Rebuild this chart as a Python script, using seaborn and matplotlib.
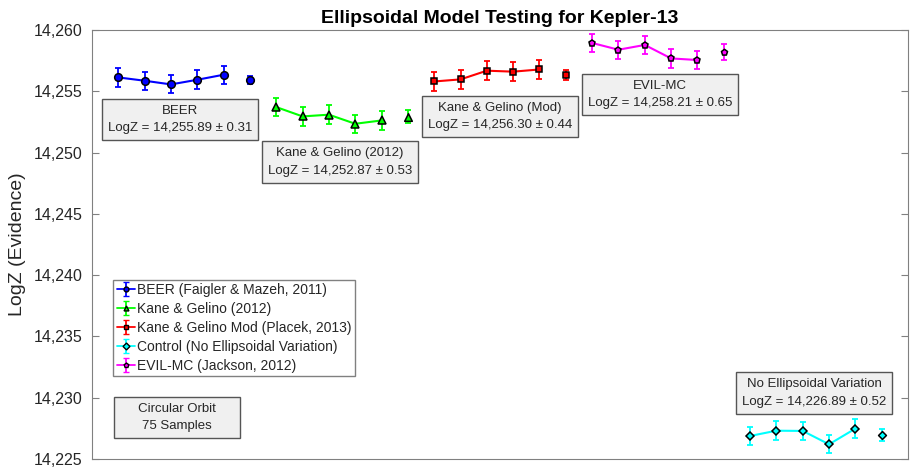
import numpy as np
import seaborn as sns
import matplotlib.pyplot as plt
from matplotlib.ticker import FuncFormatter

# values (LogZ per run, last point of each group = combined)
beer_runs = [14256.13, 14255.86, 14255.56, 14255.94, 14256.35]
kg_runs = [14253.71, 14252.95, 14253.09, 14252.35, 14252.62]
mod_runs = [14255.80, 14255.97, 14256.68, 14256.60, 14256.78]
evil_runs = [14258.94, 14258.39, 14258.78, 14257.68, 14257.55]
ctrl_runs = [14226.88, 14227.31, 14227.29, 14226.20, 14227.48]

beer_err = [0.75, 0.75, 0.73, 0.76, 0.75]
kg_err = [0.73, 0.75, 0.75, 0.75, 0.76]
mod_err = [0.76, 0.75, 0.75, 0.75, 0.75]
evil_err = [0.75, 0.75, 0.75, 0.75, 0.75]
ctrl_err = [0.73, 0.75, 0.75, 0.75, 0.75]

means = [14255.92, 14252.92, 14256.33, 14258.24, 14226.95]
mean_err = [0.31, 0.53, 0.44, 0.65, 0.52]
mean_text = ['14,255.89 ± 0.31', '14,252.87 ± 0.53', '14,256.30 ± 0.44',
             '14,258.21 ± 0.65', '14,226.89 ± 0.52']

box_names = ['BEER', 'Kane & Gelino (2012)', 'Kane & Gelino (Mod)', 'EVIL-MC',
             'No Ellipsoidal Variation']
legend_names = ['BEER (Faigler & Mazeh, 2011)', 'Kane & Gelino (2012)',
                'Kane & Gelino Mod (Placek, 2013)', 'EVIL-MC (Jackson, 2012)',
                'Control (No Ellipsoidal Variation)']
legend_order = [0, 1, 2, 4, 3]

runs = [beer_runs, kg_runs, mod_runs, evil_runs, ctrl_runs]
errs = [beer_err, kg_err, mod_err, evil_err, ctrl_err]
colors = ['#0000ff', '#00ff00', '#ff0000', '#ff00ff', '#00ffff']
markers = ['o', '^', 's', 'p', 'D']
msizes = [5.5, 5.5, 4.6, 4.6, 4.0]

# annotation box centres (axes fraction)
box_pos = [(0.108, 0.792), (0.304, 0.692), (0.5, 0.799), (0.696, 0.850), (0.885, 0.154)]

sns.set_theme(style='white')
plt.rcParams['font.family'] = ['Liberation Sans', 'DejaVu Sans']

fig = plt.figure(figsize=(9.21, 4.76), dpi=100)
ax = fig.add_axes([0.0999, 0.0357, 0.886, 0.9013])

handles = []
for i in range(5):
    x = np.arange(1, 6) + 6 * i
    xm = 6 + 6 * i
    c = colors[i]
    sns.lineplot(x=x, y=runs[i], ax=ax, color=c, lw=1.5, marker=markers[i],
                 markersize=msizes[i], markerfacecolor=c, markeredgecolor='black',
                 markeredgewidth=1.1, zorder=3)
    ax.errorbar(x, runs[i], yerr=errs[i], fmt='none', ecolor=c, elinewidth=1.3,
                capsize=2.3, capthick=1.3, zorder=2)
    ax.errorbar([xm], [means[i]], yerr=[mean_err[i]], fmt='none', ecolor=c,
                elinewidth=1.3, capsize=2.3, capthick=1.3, zorder=2)
    sns.scatterplot(x=[xm], y=[means[i]], ax=ax, color=c, marker=markers[i],
                    s=msizes[i] ** 2, edgecolor='black', linewidth=1.1, zorder=3)
    h = ax.errorbar([np.nan], [np.nan], yerr=[np.nan], fmt='-', color=c, lw=1.3,
                    marker=markers[i], markersize=3.5, markerfacecolor=c,
                    markeredgecolor='black', capsize=2.3, label=legend_names[i])
    handles.append(h)

for i in range(5):
    ax.text(box_pos[i][0], box_pos[i][1], box_names[i] + '\nLogZ = ' + mean_text[i],
            transform=ax.transAxes, ha='center', va='center', fontsize=9.5,
            color='#262626', linespacing=1.6,
            bbox=dict(boxstyle='square,pad=0.45', fc='#f0f0f0', ec='#555555', lw=1))

ax.text(0.104, 0.097, '     Circular Orbit     \n75 Samples', transform=ax.transAxes,
        ha='center', va='center', fontsize=9.5, color='#262626', linespacing=1.6,
        bbox=dict(boxstyle='square,pad=0.45', fc='#f0f0f0', ec='#555555', lw=1))

leg = ax.legend([handles[k] for k in legend_order], [legend_names[k] for k in legend_order],
                loc='upper left', bbox_to_anchor=(0.026, 0.418), borderaxespad=0,
                fontsize=10, handlelength=1.3, handletextpad=0.15, labelspacing=0.35,
                borderpad=0.25, fancybox=False, framealpha=1, edgecolor='#808080')
leg.get_frame().set_linewidth(1)

ax.set_xlim(0, 31)
ax.set_ylim(14225, 14260)
ax.set_xticks([])
ax.set_yticks(np.arange(14225, 14261, 5))
ax.yaxis.set_major_formatter(FuncFormatter(lambda v, p: f'{v:,.0f}'))
ax.tick_params(axis='y', direction='in', length=5, width=0.8, left=True, right=True,
               labelsize=11.5, colors='#808080', labelcolor='#262626', pad=7)
for s in ax.spines.values():
    s.set_color('#808080')
    s.set_linewidth(0.8)

ax.set_ylabel('LogZ (Evidence)', fontsize=14, color='#262626', labelpad=5)
ax.set_title('Ellipsoidal Model Testing for Kepler-13', fontsize=14, fontweight='bold',
             color='black', pad=5)

fig.savefig('out.png', dpi=100)
